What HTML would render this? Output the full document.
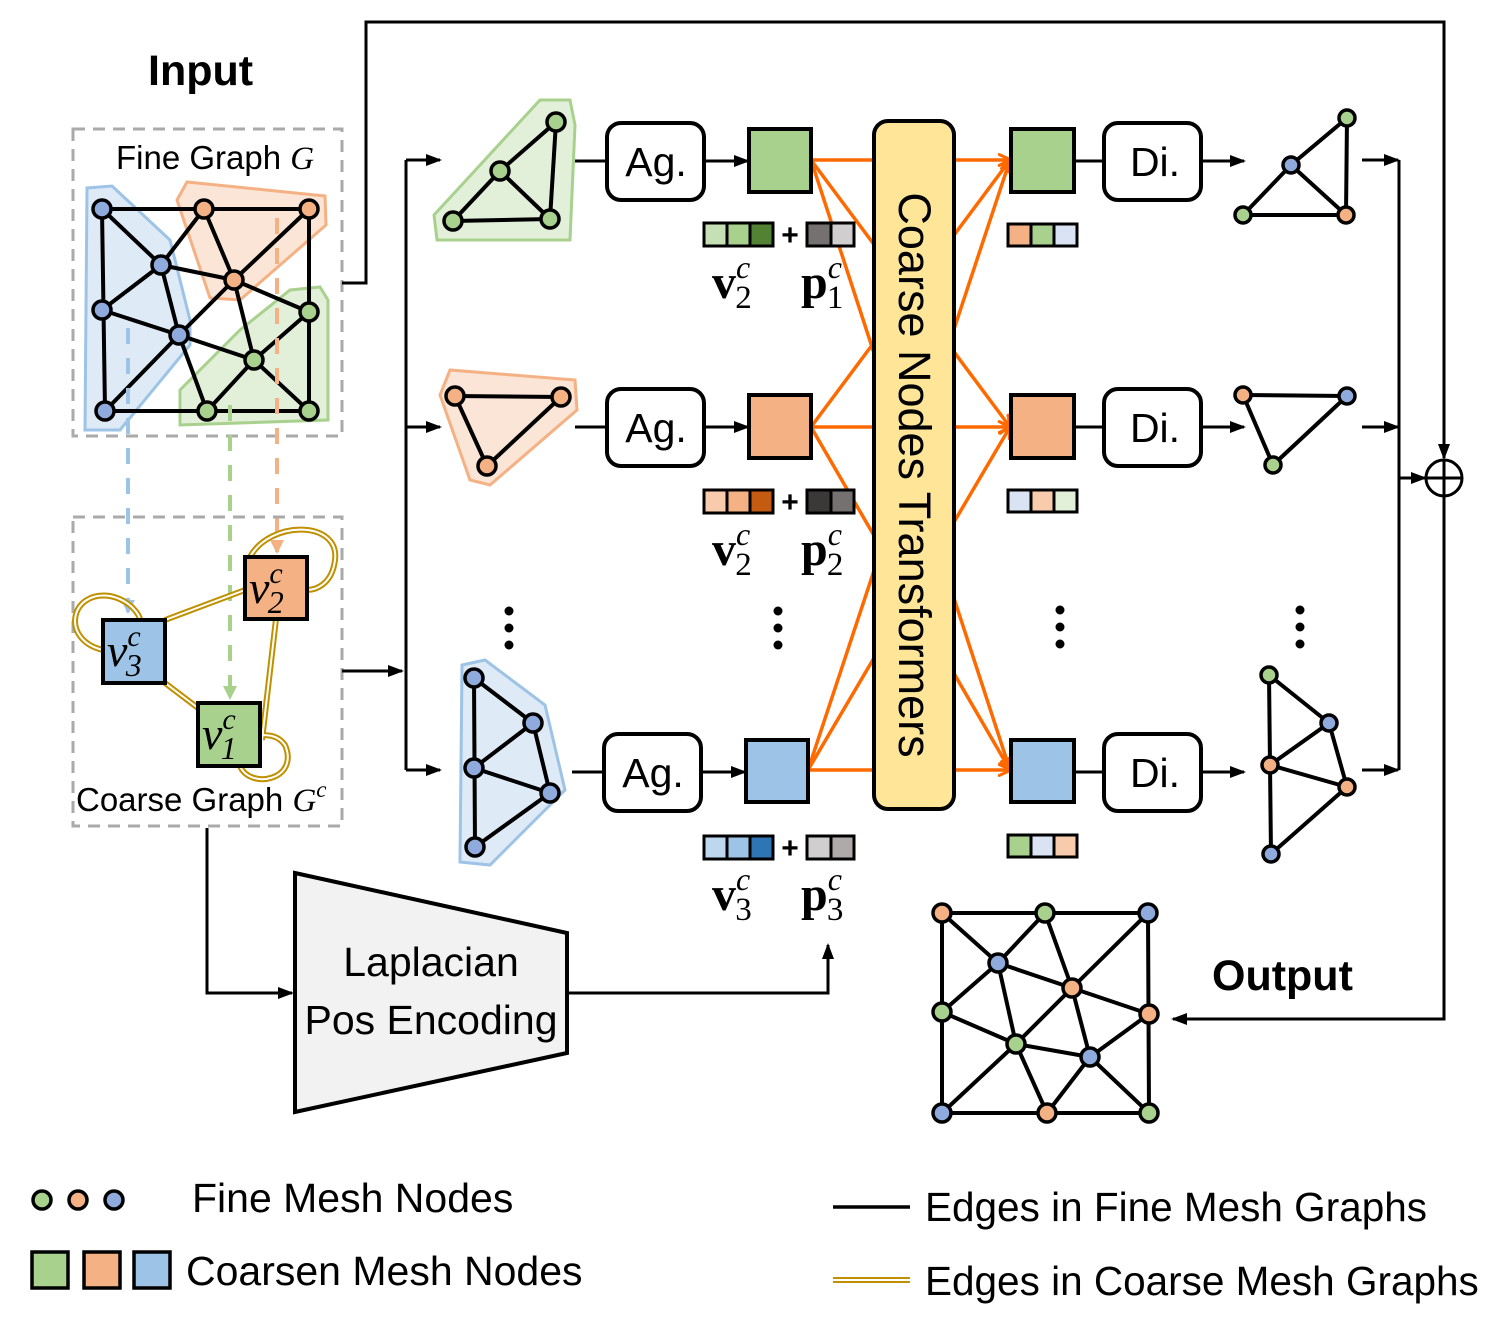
<!DOCTYPE html>
<html><head><meta charset="utf-8"><style>
html,body{margin:0;padding:0;background:#fff}
svg{display:block}
.s{font-family:"Liberation Sans",sans-serif}
.m{font-family:"Liberation Serif",serif}
</style></head><body>
<svg width="1493" height="1335" viewBox="0 0 1493 1335" xmlns="http://www.w3.org/2000/svg">
<defs>
<marker id="ab" markerWidth="16" markerHeight="14" refX="14" refY="7" orient="auto" markerUnits="userSpaceOnUse"><path d="M0,1 L16,7 L0,13 z" fill="#000"/></marker>
<marker id="ao" markerWidth="14" markerHeight="14" refX="12" refY="7" orient="auto" markerUnits="userSpaceOnUse"><path d="M0,1 L13,7 L0,13" fill="none" stroke="#ff6a00" stroke-width="3"/></marker>
<marker id="abl" markerWidth="14" markerHeight="14" refX="12" refY="7" orient="auto" markerUnits="userSpaceOnUse"><path d="M0,0 L14,7 L0,14 z" fill="#9dc3e6"/></marker>
<marker id="agr" markerWidth="14" markerHeight="14" refX="12" refY="7" orient="auto" markerUnits="userSpaceOnUse"><path d="M0,0 L14,7 L0,14 z" fill="#a9d18e"/></marker>
<marker id="aor" markerWidth="14" markerHeight="14" refX="12" refY="7" orient="auto" markerUnits="userSpaceOnUse"><path d="M0,0 L14,7 L0,14 z" fill="#f4b183"/></marker>
</defs>

<!-- Input -->
<text x="148" y="85" class="s" font-size="43" font-weight="bold">Input</text>
<rect x="73" y="129" width="269" height="307" fill="none" stroke="#aaa" stroke-width="3" stroke-dasharray="12,8"/>
<text x="116" y="169" class="s" font-size="33">Fine Graph <tspan class="m" font-style="italic">G</tspan></text>
<polygon points="87,188 112,186 170,240 190,320 190,345 120,430 85,430" fill="#deebf7" stroke="#9dc3e6" stroke-width="3"/>
<polygon points="177,200 187,182 325,196 326,225 240,300 210,298" fill="#fbe5d6" stroke="#f4b183" stroke-width="3"/>
<polygon points="180,390 240,330 290,290 320,287 328,300 328,420 180,425" fill="#e2efd9" stroke="#a9d18e" stroke-width="3"/>
<g stroke="#000" stroke-width="4">
<path d="M102,209 L309,209 L309,411 L105,411 Z" fill="none"/>
<line x1="102" y1="209" x2="161" y2="265"/><line x1="204" y1="209" x2="161" y2="265"/><line x1="204" y1="209" x2="234" y2="280"/><line x1="309" y1="209" x2="234" y2="280"/><line x1="161" y1="265" x2="102" y2="310"/><line x1="161" y1="265" x2="234" y2="280"/><line x1="161" y1="265" x2="179" y2="335"/><line x1="234" y1="280" x2="309" y2="312"/><line x1="234" y1="280" x2="179" y2="335"/><line x1="234" y1="280" x2="254" y2="360"/><line x1="102" y1="310" x2="179" y2="335"/><line x1="179" y1="335" x2="254" y2="360"/><line x1="309" y1="312" x2="254" y2="360"/><line x1="179" y1="335" x2="105" y2="411"/><line x1="179" y1="335" x2="207" y2="411"/><line x1="254" y1="360" x2="207" y2="411"/><line x1="254" y1="360" x2="309" y2="411"/>
</g>
<g stroke="#000" stroke-width="3.5">
<circle cx="102" cy="209" r="9" fill="#8faadc"/><circle cx="204" cy="209" r="9" fill="#f4b183"/><circle cx="309" cy="209" r="9" fill="#f4b183"/><circle cx="161" cy="265" r="9" fill="#8faadc"/><circle cx="234" cy="280" r="9" fill="#f4b183"/><circle cx="102" cy="310" r="9" fill="#8faadc"/><circle cx="179" cy="335" r="9" fill="#8faadc"/><circle cx="309" cy="312" r="9" fill="#a9d18e"/><circle cx="254" cy="360" r="9" fill="#a9d18e"/><circle cx="105" cy="411" r="9" fill="#8faadc"/><circle cx="207" cy="411" r="9" fill="#a9d18e"/><circle cx="309" cy="411" r="9" fill="#a9d18e"/>
</g>
<line x1="128" y1="328" x2="128" y2="612" stroke="#9dc3e6" stroke-width="4" stroke-dasharray="16,14" marker-end="url(#abl)"/>
<line x1="230" y1="405" x2="230" y2="698" stroke="#a9d18e" stroke-width="4" stroke-dasharray="16,14" marker-end="url(#agr)"/>
<line x1="277" y1="218" x2="277" y2="552" stroke="#f4b183" stroke-width="4" stroke-dasharray="16,14" marker-end="url(#aor)"/>

<!-- Coarse graph -->
<rect x="73" y="517" width="269" height="309" fill="none" stroke="#aaa" stroke-width="3" stroke-dasharray="12,8"/>
<g fill="none" stroke="#c09000" stroke-width="6"><line x1="165" y1="620" x2="245" y2="590"/><line x1="165" y1="683" x2="198" y2="708"/><line x1="276" y1="619" x2="262" y2="740"/>
<path d="M103,650 C60,640 70,590 110,596 C130,600 140,615 140,620"/>
<path d="M250,557 C270,520 340,520 335,560 C332,585 315,590 307,590"/>
<path d="M240,766 C250,790 300,780 285,745 C278,735 268,735 260,735"/></g>
<g fill="none" stroke="#fff" stroke-width="2"><line x1="165" y1="620" x2="245" y2="590"/><line x1="165" y1="683" x2="198" y2="708"/><line x1="276" y1="619" x2="262" y2="740"/>
<path d="M103,650 C60,640 70,590 110,596 C130,600 140,615 140,620"/>
<path d="M250,557 C270,520 340,520 335,560 C332,585 315,590 307,590"/>
<path d="M240,766 C250,790 300,780 285,745 C278,735 268,735 260,735"/></g>
<rect x="245" y="557" width="62" height="62" fill="#f4b183" stroke="#000" stroke-width="4"/>
<rect x="103" y="620" width="62" height="63" fill="#9dc3e6" stroke="#000" stroke-width="4"/>
<rect x="198" y="703" width="62" height="63" fill="#a9d18e" stroke="#000" stroke-width="4"/>
<g class="m" font-style="italic" font-size="46"><text x="249" y="603">v<tspan font-size="30" dy="-20">c</tspan><tspan font-size="32" dx="-15" dy="30">2</tspan></text>
<text x="107" y="666">v<tspan font-size="30" dy="-20">c</tspan><tspan font-size="32" dx="-15" dy="30">3</tspan></text>
<text x="202" y="749">v<tspan font-size="30" dy="-20">c</tspan><tspan font-size="32" dx="-15" dy="30">1</tspan></text></g>
<text x="76" y="811" class="s" font-size="33">Coarse Graph <tspan class="m" font-style="italic">G<tspan font-size="23" dy="-14">c</tspan></tspan></text>

<g stroke="#000" stroke-width="3" fill="none">
<polyline points="342,283 366,283 366,22 1444,22 1444,458" marker-end="url(#ab)"/>
<line x1="342" y1="671" x2="402" y2="671" marker-end="url(#ab)"/>
<line x1="406" y1="160" x2="406" y2="770"/>
<line x1="406" y1="160" x2="440" y2="160" marker-end="url(#ab)"/>
<line x1="406" y1="427" x2="440" y2="427" marker-end="url(#ab)"/>
<line x1="406" y1="770" x2="440" y2="770" marker-end="url(#ab)"/>
<polyline points="207,828 207,993 292,993" marker-end="url(#ab)"/>
<polyline points="567,993 828,993 828,945" marker-end="url(#ab)"/>
<line x1="1399" y1="160" x2="1399" y2="770"/>
<line x1="1362" y1="160" x2="1398" y2="160" marker-end="url(#ab)"/>
<line x1="1362" y1="427" x2="1398" y2="427" marker-end="url(#ab)"/>
<line x1="1362" y1="770" x2="1398" y2="770" marker-end="url(#ab)"/>
<line x1="1399" y1="478" x2="1425" y2="478" marker-end="url(#ab)"/>
<polyline points="1444,496 1444,1019 1173,1019" marker-end="url(#ab)"/>
<line x1="575" y1="161" x2="607" y2="161"/><line x1="704" y1="161" x2="748" y2="161" marker-end="url(#ab)"/>
<line x1="575" y1="427" x2="607" y2="427"/><line x1="704" y1="427" x2="748" y2="427" marker-end="url(#ab)"/>
<line x1="572" y1="772" x2="604" y2="772"/><line x1="701" y1="772" x2="745" y2="772" marker-end="url(#ab)"/>
<line x1="1074" y1="161" x2="1104" y2="161"/><line x1="1201" y1="161" x2="1244" y2="161" marker-end="url(#ab)"/>
<line x1="1074" y1="427" x2="1104" y2="427"/><line x1="1201" y1="427" x2="1244" y2="427" marker-end="url(#ab)"/>
<line x1="1074" y1="772" x2="1104" y2="772"/><line x1="1201" y1="772" x2="1244" y2="772" marker-end="url(#ab)"/>
</g>
<circle cx="1444" cy="478" r="18" fill="#fff" stroke="#000" stroke-width="3"/>
<line x1="1426" y1="478" x2="1462" y2="478" stroke="#000" stroke-width="3"/><line x1="1444" y1="460" x2="1444" y2="496" stroke="#000" stroke-width="3"/>

<polygon points="434,215 540,100 570,100 575,125 570,240 437,240" fill="#e2efd9" stroke="#a9d18e" stroke-width="3"/>
<polygon points="440,395 450,370 575,380 577,410 490,485 470,480" fill="#fbe5d6" stroke="#f4b183" stroke-width="3"/>
<polygon points="462,665 485,660 545,705 565,790 490,865 460,862" fill="#deebf7" stroke="#9dc3e6" stroke-width="3"/>
<g stroke="#000" stroke-width="4">
<line x1="556" y1="122" x2="500" y2="171"/><line x1="500" y1="171" x2="453" y2="221"/><line x1="453" y1="221" x2="550" y2="219"/><line x1="500" y1="171" x2="550" y2="219"/><line x1="556" y1="122" x2="550" y2="219"/>
<line x1="455" y1="396" x2="561" y2="397"/><line x1="561" y1="397" x2="487" y2="466"/><line x1="487" y1="466" x2="455" y2="396"/>
<line x1="474" y1="678" x2="475" y2="847"/><line x1="474" y1="678" x2="533" y2="723"/><line x1="533" y1="723" x2="474" y2="768"/><line x1="474" y1="768" x2="550" y2="793"/><line x1="533" y1="723" x2="550" y2="793"/><line x1="550" y1="793" x2="475" y2="847"/>
<line x1="1347" y1="118" x2="1291" y2="165"/><line x1="1291" y1="165" x2="1243" y2="215"/><line x1="1243" y1="215" x2="1346" y2="215"/><line x1="1291" y1="165" x2="1346" y2="215"/><line x1="1347" y1="118" x2="1346" y2="215"/>
<line x1="1243" y1="395" x2="1347" y2="396"/><line x1="1243" y1="395" x2="1273" y2="465"/><line x1="1273" y1="465" x2="1347" y2="396"/>
<line x1="1269" y1="675" x2="1271" y2="854"/><line x1="1269" y1="675" x2="1329" y2="723"/><line x1="1329" y1="723" x2="1270" y2="765"/><line x1="1270" y1="765" x2="1347" y2="787"/><line x1="1329" y1="723" x2="1347" y2="787"/><line x1="1347" y1="787" x2="1271" y2="854"/>
</g>
<g stroke="#000" stroke-width="3.5">
<circle cx="556" cy="122" r="9" fill="#a9d18e"/><circle cx="500" cy="171" r="9" fill="#a9d18e"/><circle cx="453" cy="221" r="9" fill="#a9d18e"/><circle cx="550" cy="219" r="9" fill="#a9d18e"/>
<circle cx="455" cy="396" r="9" fill="#f4b183"/><circle cx="561" cy="397" r="9" fill="#f4b183"/><circle cx="487" cy="466" r="9" fill="#f4b183"/>
<circle cx="474" cy="678" r="9" fill="#8faadc"/><circle cx="533" cy="723" r="9" fill="#8faadc"/><circle cx="474" cy="768" r="9" fill="#8faadc"/><circle cx="550" cy="793" r="9" fill="#8faadc"/><circle cx="475" cy="847" r="9" fill="#8faadc"/>
<circle cx="1347" cy="118" r="8" fill="#a9d18e"/><circle cx="1291" cy="165" r="8" fill="#8faadc"/><circle cx="1243" cy="215" r="8" fill="#a9d18e"/><circle cx="1346" cy="215" r="8" fill="#f4b183"/>
<circle cx="1243" cy="395" r="8" fill="#f4b183"/><circle cx="1347" cy="396" r="8" fill="#8faadc"/><circle cx="1273" cy="465" r="8" fill="#a9d18e"/>
<circle cx="1269" cy="675" r="8" fill="#a9d18e"/><circle cx="1329" cy="723" r="8" fill="#8faadc"/><circle cx="1270" cy="765" r="8" fill="#f4b183"/><circle cx="1347" cy="787" r="8" fill="#f4b183"/><circle cx="1271" cy="854" r="8" fill="#8faadc"/>
</g>

<g stroke="#ff6a00" stroke-width="3.5" fill="none">
<line x1="811" y1="160" x2="1010" y2="160" marker-end="url(#ao)"/><line x1="811" y1="160" x2="1010" y2="427" marker-end="url(#ao)"/><line x1="811" y1="160" x2="1010" y2="770" marker-end="url(#ao)"/>
<line x1="811" y1="427" x2="1010" y2="160" marker-end="url(#ao)"/><line x1="811" y1="427" x2="1010" y2="427" marker-end="url(#ao)"/><line x1="811" y1="427" x2="1010" y2="770" marker-end="url(#ao)"/>
<line x1="808" y1="770" x2="1010" y2="160" marker-end="url(#ao)"/><line x1="808" y1="770" x2="1010" y2="427" marker-end="url(#ao)"/><line x1="808" y1="770" x2="1010" y2="770" marker-end="url(#ao)"/>
</g>
<rect x="874" y="121" width="80" height="688" rx="14" fill="#fee598" stroke="#000" stroke-width="4"/>
<text transform="translate(899,475) rotate(90)" text-anchor="middle" class="s" font-size="45">Coarse Nodes Transformers</text>

<g fill="#fff" stroke="#000" stroke-width="4">
<rect x="607" y="123" width="97" height="77" rx="14"/><rect x="607" y="389" width="97" height="77" rx="14"/><rect x="604" y="734" width="97" height="77" rx="14"/>
<rect x="1104" y="123" width="97" height="77" rx="14"/><rect x="1104" y="389" width="97" height="77" rx="14"/><rect x="1104" y="734" width="97" height="77" rx="14"/>
</g>
<g class="s" font-size="41" text-anchor="middle">
<text x="656" y="176">Ag.</text><text x="656" y="442">Ag.</text><text x="653" y="787">Ag.</text>
<text x="1155" y="176">Di.</text><text x="1155" y="442">Di.</text><text x="1155" y="787">Di.</text>
</g>
<g stroke="#000" stroke-width="4">
<rect x="749" y="129" width="62" height="63" fill="#a9d18e"/><rect x="749" y="395" width="62" height="63" fill="#f4b183"/><rect x="746" y="740" width="62" height="62" fill="#9dc3e6"/>
<rect x="1011" y="129" width="63" height="63" fill="#a9d18e"/><rect x="1011" y="395" width="63" height="63" fill="#f4b183"/><rect x="1011" y="740" width="63" height="62" fill="#9dc3e6"/>
</g>

<g stroke="#000" stroke-width="3">
<rect x="704" y="223" width="23" height="23" fill="#c5e0b4"/><rect x="727" y="223" width="23" height="23" fill="#a9d18e"/><rect x="750" y="223" width="23" height="23" fill="#548235"/>
<rect x="807" y="223" width="24" height="23" fill="#767171"/><rect x="831" y="223" width="23" height="23" fill="#d0cece"/>
<rect x="704" y="490" width="23" height="23" fill="#f8cbad"/><rect x="727" y="490" width="23" height="23" fill="#f4b183"/><rect x="750" y="490" width="23" height="23" fill="#c55a11"/>
<rect x="807" y="490" width="24" height="23" fill="#3b3838"/><rect x="831" y="490" width="23" height="23" fill="#767171"/>
<rect x="704" y="836" width="23" height="23" fill="#bdd7ee"/><rect x="727" y="836" width="23" height="23" fill="#9dc3e6"/><rect x="750" y="836" width="23" height="23" fill="#2e75b6"/>
<rect x="807" y="836" width="24" height="23" fill="#d0cece"/><rect x="831" y="836" width="23" height="23" fill="#aeaaaa"/>
<rect x="1008" y="224" width="23" height="22" fill="#f4b183"/><rect x="1031" y="224" width="23" height="22" fill="#a9d18e"/><rect x="1054" y="224" width="23" height="22" fill="#dae3f3"/>
<rect x="1008" y="490" width="23" height="22" fill="#dae3f3"/><rect x="1031" y="490" width="23" height="22" fill="#f8cbad"/><rect x="1054" y="490" width="23" height="22" fill="#e2efd9"/>
<rect x="1008" y="835" width="23" height="22" fill="#a9d18e"/><rect x="1031" y="835" width="23" height="22" fill="#dae3f3"/><rect x="1054" y="835" width="23" height="22" fill="#f8cbad"/>
</g>
<g class="s" font-size="30" font-weight="bold" text-anchor="middle"><text x="790" y="245">+</text><text x="790" y="512">+</text><text x="790" y="858">+</text></g>
<g class="m" font-size="48" font-weight="bold">
<text x="712" y="298">v<tspan font-weight="normal" font-style="italic" font-size="32" dy="-20">c</tspan><tspan font-weight="normal" font-size="33" dx="-15" dy="30">2</tspan></text>
<text x="801" y="298">p<tspan font-weight="normal" font-style="italic" font-size="32" dy="-20">c</tspan><tspan font-weight="normal" font-size="33" dx="-15" dy="30">1</tspan></text>
<text x="712" y="565">v<tspan font-weight="normal" font-style="italic" font-size="32" dy="-20">c</tspan><tspan font-weight="normal" font-size="33" dx="-15" dy="30">2</tspan></text>
<text x="801" y="565">p<tspan font-weight="normal" font-style="italic" font-size="32" dy="-20">c</tspan><tspan font-weight="normal" font-size="33" dx="-15" dy="30">2</tspan></text>
<text x="712" y="910">v<tspan font-weight="normal" font-style="italic" font-size="32" dy="-20">c</tspan><tspan font-weight="normal" font-size="33" dx="-15" dy="30">3</tspan></text>
<text x="801" y="910">p<tspan font-weight="normal" font-style="italic" font-size="32" dy="-20">c</tspan><tspan font-weight="normal" font-size="33" dx="-15" dy="30">3</tspan></text>
</g>
<g fill="#000">
<circle cx="509" cy="611" r="4.5"/><circle cx="509" cy="628" r="4.5"/><circle cx="509" cy="645" r="4.5"/>
<circle cx="778" cy="611" r="4.5"/><circle cx="778" cy="628" r="4.5"/><circle cx="778" cy="645" r="4.5"/>
<circle cx="1060" cy="610" r="4.5"/><circle cx="1060" cy="627" r="4.5"/><circle cx="1060" cy="644" r="4.5"/>
<circle cx="1300" cy="610" r="4.5"/><circle cx="1300" cy="627" r="4.5"/><circle cx="1300" cy="644" r="4.5"/>
</g>

<polygon points="295,873 567,933 567,1053 295,1112" fill="#f2f2f2" stroke="#000" stroke-width="4"/>
<text x="431" y="976" text-anchor="middle" class="s" font-size="41">Laplacian</text>
<text x="431" y="1034" text-anchor="middle" class="s" font-size="41">Pos Encoding</text>

<text x="1212" y="990" class="s" font-size="43" font-weight="bold">Output</text>
<g stroke="#000" stroke-width="4">
<path d="M942,913 L1148,913 L1149,1113 L942,1113 Z" fill="none"/>
<line x1="942" y1="913" x2="998" y2="963"/><line x1="1045" y1="913" x2="998" y2="963"/><line x1="1045" y1="913" x2="1072" y2="988"/><line x1="1148" y1="913" x2="1072" y2="988"/><line x1="998" y1="963" x2="942" y2="1012"/><line x1="998" y1="963" x2="1072" y2="988"/><line x1="998" y1="963" x2="1016" y2="1044"/><line x1="1072" y1="988" x2="1149" y2="1014"/><line x1="1072" y1="988" x2="1016" y2="1044"/><line x1="1072" y1="988" x2="1090" y2="1057"/><line x1="942" y1="1012" x2="1016" y2="1044"/><line x1="1016" y1="1044" x2="1090" y2="1057"/><line x1="1149" y1="1014" x2="1090" y2="1057"/><line x1="1016" y1="1044" x2="942" y2="1113"/><line x1="1016" y1="1044" x2="1047" y2="1113"/><line x1="1090" y1="1057" x2="1047" y2="1113"/><line x1="1090" y1="1057" x2="1149" y2="1113"/>
</g>
<g stroke="#000" stroke-width="3.5">
<circle cx="942" cy="913" r="9" fill="#f4b183"/><circle cx="1045" cy="913" r="9" fill="#a9d18e"/><circle cx="1148" cy="913" r="9" fill="#8faadc"/><circle cx="998" cy="963" r="9" fill="#8faadc"/><circle cx="1072" cy="988" r="9" fill="#f4b183"/><circle cx="942" cy="1012" r="9" fill="#a9d18e"/><circle cx="1149" cy="1014" r="9" fill="#f4b183"/><circle cx="1016" cy="1044" r="9" fill="#a9d18e"/><circle cx="1090" cy="1057" r="9" fill="#8faadc"/><circle cx="942" cy="1113" r="9" fill="#8faadc"/><circle cx="1047" cy="1113" r="9" fill="#f4b183"/><circle cx="1149" cy="1113" r="9" fill="#a9d18e"/>
</g>

<g stroke="#000" stroke-width="3.5">
<circle cx="42" cy="1200" r="9" fill="#a9d18e"/><circle cx="78" cy="1200" r="9" fill="#f4b183"/><circle cx="114" cy="1200" r="9" fill="#8faadc"/>
<rect x="32" y="1252" width="36" height="36" fill="#a9d18e"/><rect x="84" y="1252" width="36" height="36" fill="#f4b183"/><rect x="134" y="1252" width="36" height="36" fill="#9dc3e6"/>
</g>
<text x="192" y="1212" class="s" font-size="41">Fine Mesh Nodes</text>
<text x="186" y="1285" class="s" font-size="41">Coarsen Mesh Nodes</text>
<line x1="833" y1="1207" x2="910" y2="1207" stroke="#000" stroke-width="3.5"/>
<line x1="833" y1="1280" x2="910" y2="1280" stroke="#c09000" stroke-width="6"/>
<line x1="833" y1="1280" x2="910" y2="1280" stroke="#fff" stroke-width="2"/>
<text x="925" y="1221" class="s" font-size="40.5">Edges in Fine Mesh Graphs</text>
<text x="925" y="1295" class="s" font-size="40.5">Edges in Coarse Mesh Graphs</text>
</svg>
</body></html>
